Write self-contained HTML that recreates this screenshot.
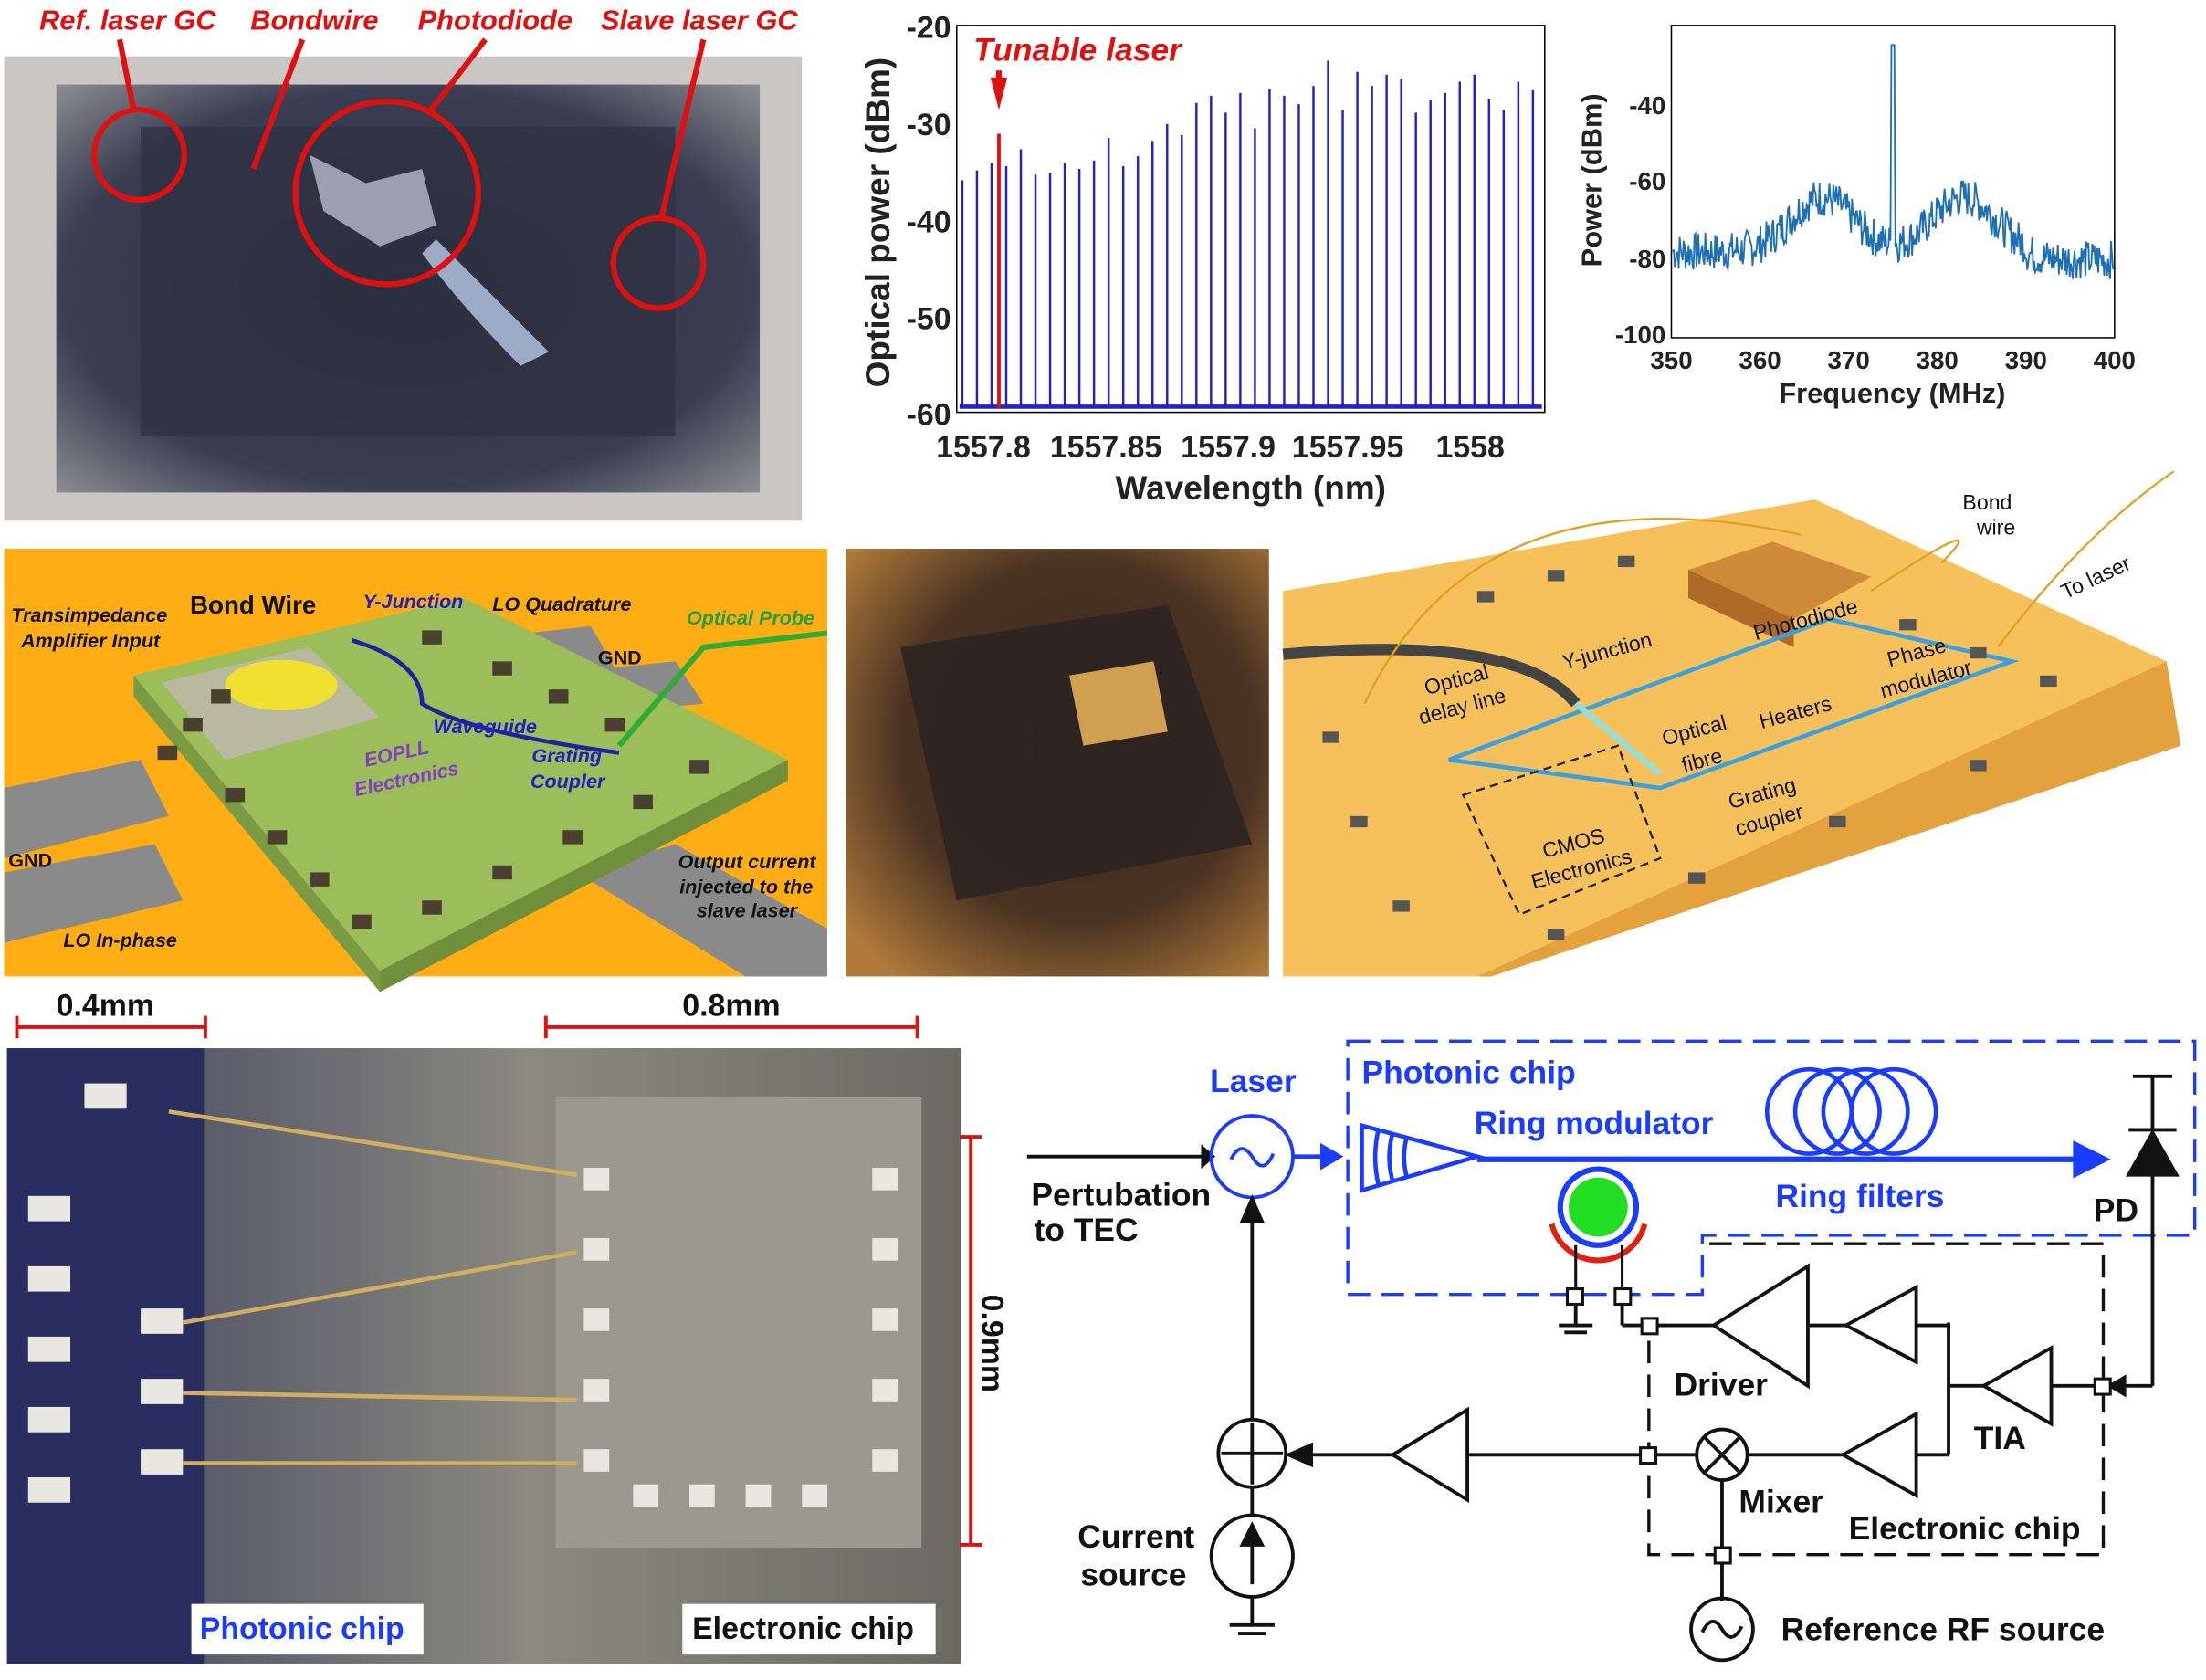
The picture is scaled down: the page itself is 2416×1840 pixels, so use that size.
<!DOCTYPE html>
<html><head><meta charset="utf-8"><style>
html,body{margin:0;padding:0;background:#fff;}
svg{display:block;font-family:"Liberation Sans",Arial,sans-serif;}
</style></head><body>
<svg id="s" width="2416" height="1840" viewBox="0 0 1568 1194" xmlns="http://www.w3.org/2000/svg">
<defs>
<radialGradient id="ph1" cx="50%" cy="50%" r="70%"><stop offset="0" stop-color="#2a2d3e"/><stop offset="0.7" stop-color="#3b3e52"/><stop offset="1" stop-color="#8a8a90"/></radialGradient>
<radialGradient id="ph2" cx="55%" cy="45%" r="70%"><stop offset="0" stop-color="#3a2a1c"/><stop offset="0.6" stop-color="#4a3322"/><stop offset="1" stop-color="#b07a3a"/></radialGradient>
<linearGradient id="ph3" x1="0" y1="0" x2="1" y2="0"><stop offset="0" stop-color="#3a3b60"/><stop offset="0.2" stop-color="#5a5a6a"/><stop offset="0.55" stop-color="#8a8a80"/><stop offset="1" stop-color="#6a6a62"/></linearGradient>
</defs>

<!-- Panel 1 photo -->
<rect x="3" y="40" width="567" height="330" fill="#c9c6c4"/>
<rect x="40" y="60" width="500" height="290" fill="url(#ph1)"/>
<rect x="100" y="90" width="380" height="220" fill="#2e3040" opacity="0.7"/>
<path d="M220 110 L260 130 L300 120 L310 160 L270 175 L230 150Z" fill="#9aa0ae"/>
<path d="M310 170 Q360 220 390 250 L370 260 Q330 220 300 180Z" fill="#cfe0ff" opacity="0.7"/>
<circle cx="99" cy="110" r="32" fill="none" stroke="#e01010" stroke-width="4"/>
<circle cx="275" cy="137" r="65" fill="none" stroke="#e01010" stroke-width="4"/>
<circle cx="468" cy="187" r="32" fill="none" stroke="#e01010" stroke-width="4"/>
<g stroke="#e01010" stroke-width="4"><line x1="85" y1="28" x2="95" y2="78"/><line x1="215" y1="28" x2="180" y2="120"/><line x1="345" y1="28" x2="305" y2="80"/><line x1="500" y1="28" x2="470" y2="155"/></g>
<g fill="#e01010" font-weight="bold" font-style="italic" font-size="20">
<text x="28" y="21">Ref. laser GC</text><text x="178" y="21">Bondwire</text><text x="297" y="21">Photodiode</text><text x="427" y="21">Slave laser GC</text></g>

<!-- Panel 6 3D chip (drawn before plot text) -->
<path d="M912 420 L1290 355 L1540 470 L1050 694 L912 694Z" fill="#f6c15a"/>
<path d="M1540 470 L1550 530 L1060 694 L1050 694Z" fill="#e4a23c"/>
<path d="M1200 405 L1260 385 L1330 410 L1275 440Z" fill="#cf8a38"/><path d="M1200 405 L1275 440 L1275 460 L1200 425Z" fill="#b06a28"/>
<path d="M1030 540 L1300 440 L1430 470 L1180 560 Z" fill="none" stroke="#3aa0e0" stroke-width="3"/>
<path d="M912 465 Q1080 450 1120 500" stroke="#444" stroke-width="8" fill="none"/>
<line x1="1120" y1="500" x2="1180" y2="550" stroke="#8ee0e0" stroke-width="4"/>
<path d="M1040 565 L1150 530 L1180 610 L1080 650Z" fill="none" stroke="#222" stroke-width="1.5" stroke-dasharray="6,4"/>
<g fill="#555"><rect x="940" y="520" width="12" height="8"/><rect x="960" y="580" width="12" height="8"/><rect x="990" y="640" width="12" height="8"/><rect x="1050" y="420" width="12" height="8"/><rect x="1100" y="405" width="12" height="8"/><rect x="1150" y="395" width="12" height="8"/><rect x="1350" y="440" width="12" height="8"/><rect x="1400" y="460" width="12" height="8"/><rect x="1450" y="480" width="12" height="8"/><rect x="1400" y="540" width="12" height="8"/><rect x="1300" y="580" width="12" height="8"/><rect x="1200" y="620" width="12" height="8"/><rect x="1100" y="660" width="12" height="8"/></g>
<path d="M970 500 Q1050 330 1280 380" stroke="#e0a020" fill="none" stroke-width="1.5"/>
<path d="M1330 420 Q1420 360 1380 400" stroke="#e0a020" fill="none" stroke-width="1.5"/>
<path d="M1420 460 Q1480 380 1545 335" stroke="#e0a020" fill="none" stroke-width="1.5"/>
<g font-size="15" fill="#111">
<text x="1395" y="362">Bond</text><text x="1405" y="380">wire</text>
<text x="1468" y="426" transform="rotate(-25 1468 426)">To laser</text>
<text x="1248" y="455" transform="rotate(-15 1248 455)">Photodiode</text>
<text x="1112" y="476" transform="rotate(-15 1112 476)">Y-junction</text>
<text x="1343" y="474" transform="rotate(-15 1343 474)">Phase</text><text x="1338" y="496" transform="rotate(-15 1338 496)">modulator</text>
<text x="1252" y="518" transform="rotate(-15 1252 518)">Heaters</text>
<text x="1014" y="494" transform="rotate(-15 1014 494)">Optical</text><text x="1010" y="515" transform="rotate(-15 1010 515)">delay line</text>
<text x="1183" y="530" transform="rotate(-15 1183 530)">Optical</text><text x="1197" y="549" transform="rotate(-15 1197 549)">fibre</text>
<text x="1230" y="575" transform="rotate(-15 1230 575)">Grating</text><text x="1235" y="594" transform="rotate(-15 1235 594)">coupler</text>
<text x="1098" y="610" transform="rotate(-15 1098 610)">CMOS</text><text x="1090" y="632" transform="rotate(-15 1090 632)">Electronics</text></g>

<!-- Panel 2 spectrum -->
<rect x="680" y="18" width="418" height="275" fill="#fff" stroke="#000" stroke-width="1"/>
<g id="spec" stroke="#2222cc" stroke-width="1.6"></g>
<line x1="710" y1="95" x2="710" y2="290" stroke="#e01010" stroke-width="2.5"/>
<path d="M704 55 L716 55 L710 78Z" fill="#e01010"/><line x1="710" y1="50" x2="710" y2="62" stroke="#e01010" stroke-width="4"/>
<text x="692" y="43" fill="#e01010" font-weight="bold" font-style="italic" font-size="23">Tunable laser</text>
<g font-size="22" font-weight="bold" fill="#222" text-anchor="end">
<text x="676" y="27">-20</text><text x="676" y="96">-30</text><text x="676" y="165">-40</text><text x="676" y="234">-50</text><text x="676" y="302">-60</text></g>
<g font-size="22" font-weight="bold" fill="#222" text-anchor="middle">
<text x="699" y="325">1557.8</text><text x="786" y="325">1557.85</text><text x="873" y="325">1557.9</text><text x="958" y="325">1557.95</text><text x="1045" y="325">1558</text>
<text x="889" y="355" font-size="24">Wavelength (nm)</text>
<text transform="translate(632,158) rotate(-90)" font-size="24">Optical power (dBm)</text></g>

<!-- Panel 3 RF -->
<rect x="1188" y="18" width="315" height="222" fill="#fff" stroke="#000" stroke-width="1"/>
<polyline id="rf" fill="none" stroke="#1f6fb5" stroke-width="1.2" points=""/>
<g font-size="18" font-weight="bold" fill="#222" text-anchor="end">
<text x="1184" y="81">-40</text><text x="1184" y="135">-60</text><text x="1184" y="190">-80</text><text x="1184" y="244">-100</text></g>
<g font-size="18" font-weight="bold" fill="#222" text-anchor="middle">
<text x="1188" y="262">350</text><text x="1251" y="262">360</text><text x="1314" y="262">370</text><text x="1377" y="262">380</text><text x="1440" y="262">390</text><text x="1503" y="262">400</text>
<text x="1345" y="286" font-size="20">Frequency (MHz)</text>
<text transform="translate(1138,128) rotate(-90)" font-size="20">Power (dBm)</text></g>

<!-- Panel 4 green chip -->
<rect x="3" y="390" width="585" height="304" fill="#ffad15"/>
<path d="M3 560 L100 540 L120 580 L3 610Z" fill="#8a8a8a"/>
<path d="M3 620 L110 600 L130 640 L3 670Z" fill="#8a8a8a"/>
<path d="M330 455 L420 445 L440 480 L350 490Z" fill="#8a8a8a"/>
<path d="M380 480 L480 470 L500 500 L400 510Z" fill="#8a8a8a"/>
<path d="M410 620 L480 600 L588 660 L588 694 L530 694Z" fill="#8a8a8a"/>
<path d="M95 480 L330 425 L560 540 L270 690Z" fill="#9bbe5a"/>
<path d="M270 690 L560 540 L560 555 L270 705Z" fill="#6f8f3a"/>
<path d="M95 480 L270 690 L270 705 L95 495Z" fill="#7a9a44"/>
<path d="M115 485 L220 460 L270 510 L160 540Z" fill="#b9b9a0"/>
<ellipse cx="200" cy="487" rx="40" ry="18" fill="#f0e030"/>
<g fill="#4a4030"><rect x="150" y="490" width="14" height="10"/><rect x="130" y="510" width="14" height="10"/><rect x="112" y="530" width="14" height="10"/><rect x="160" y="560" width="14" height="10"/><rect x="190" y="590" width="14" height="10"/><rect x="220" y="620" width="14" height="10"/><rect x="250" y="650" width="14" height="10"/><rect x="300" y="640" width="14" height="10"/><rect x="350" y="615" width="14" height="10"/><rect x="400" y="590" width="14" height="10"/><rect x="450" y="565" width="14" height="10"/><rect x="490" y="540" width="14" height="10"/><rect x="350" y="470" width="14" height="10"/><rect x="390" y="490" width="14" height="10"/><rect x="430" y="510" width="14" height="10"/><rect x="300" y="448" width="14" height="10"/></g>
<path d="M250 455 Q300 470 300 500 Q330 520 440 535" stroke="#2020a0" stroke-width="3" fill="none"/>
<path d="M440 530 L500 460 L588 450" stroke="#33aa33" stroke-width="4" fill="none"/>
<g font-weight="bold" font-style="italic" font-size="14">
<text x="8" y="442" fill="#111">Transimpedance</text><text x="15" y="460" fill="#111">Amplifier Input</text>
<text x="135" y="436" fill="#111" font-size="18" font-style="normal">Bond Wire</text>
<text x="258" y="432" fill="#2020c0">Y-Junction</text><text x="350" y="434" fill="#111">LO Quadrature</text>
<text x="488" y="444" fill="#20a040">Optical Probe</text><text x="425" y="472" fill="#111" font-style="normal">GND</text>
<text x="308" y="521" fill="#2020c0">Waveguide</text><text x="378" y="542" fill="#2020c0">Grating</text><text x="377" y="560" fill="#2020c0">Coupler</text>
<text x="260" y="545" fill="#8040c0" transform="rotate(-12 260 545)">EOPLL</text><text x="253" y="566" fill="#8040c0" transform="rotate(-12 253 566)">Electronics</text>
<text x="6" y="616" fill="#111" font-style="normal">GND</text>
<text x="482" y="617" fill="#111">Output current</text><text x="483" y="635" fill="#111">injected to the</text><text x="495" y="652" fill="#111">slave laser</text>
<text x="45" y="673" fill="#111">LO In-phase</text></g>

<!-- Panel 5 photo -->
<rect x="601" y="390" width="301" height="304" fill="url(#ph2)"/>
<path d="M640 460 L830 430 L890 600 L680 640Z" fill="#2a2220" opacity="0.8"/>
<path d="M760 480 L820 470 L830 520 L770 530Z" fill="#cfa050"/>

<!-- Panel 7 photo -->
<rect x="5" y="745" width="678" height="438" fill="url(#ph3)"/>
<rect x="5" y="745" width="140" height="438" fill="#2a2d60"/>
<rect x="395" y="780" width="260" height="320" fill="#9b9890"/>
<g fill="#e8e8e0"><rect x="415" y="830" width="18" height="16"/><rect x="415" y="880" width="18" height="16"/><rect x="415" y="930" width="18" height="16"/><rect x="415" y="980" width="18" height="16"/><rect x="415" y="1030" width="18" height="16"/><rect x="620" y="830" width="18" height="16"/><rect x="620" y="880" width="18" height="16"/><rect x="620" y="930" width="18" height="16"/><rect x="620" y="980" width="18" height="16"/><rect x="620" y="1030" width="18" height="16"/><rect x="450" y="1055" width="18" height="16"/><rect x="490" y="1055" width="18" height="16"/><rect x="530" y="1055" width="18" height="16"/><rect x="570" y="1055" width="18" height="16"/>
<rect x="20" y="850" width="30" height="18"/><rect x="20" y="900" width="30" height="18"/><rect x="20" y="950" width="30" height="18"/><rect x="20" y="1000" width="30" height="18"/><rect x="20" y="1050" width="30" height="18"/><rect x="100" y="930" width="30" height="18"/><rect x="100" y="980" width="30" height="18"/><rect x="100" y="1030" width="30" height="18"/><rect x="60" y="770" width="30" height="18"/></g>
<g stroke="#d0b060" stroke-width="3" fill="none"><path d="M120 790 L410 835"/><path d="M130 940 L410 890"/><path d="M130 990 L410 995"/><path d="M130 1040 L410 1040"/></g>
<rect x="136" y="1140" width="165" height="36" fill="#fff"/><text x="142" y="1165" font-size="22" font-weight="bold" fill="#1a3cff">Photonic chip</text>
<rect x="485" y="1140" width="180" height="36" fill="#fff"/><text x="492" y="1165" font-size="22" font-weight="bold" fill="#111">Electronic chip</text>
<g stroke="#e01010" stroke-width="2.5"><line x1="12" y1="730" x2="146" y2="730"/><line x1="12" y1="722" x2="12" y2="738"/><line x1="146" y1="722" x2="146" y2="738"/>
<line x1="388" y1="730" x2="652" y2="730"/><line x1="388" y1="722" x2="388" y2="738"/><line x1="652" y1="722" x2="652" y2="738"/>
<line x1="690" y1="808" x2="690" y2="1098"/><line x1="682" y1="808" x2="698" y2="808"/><line x1="682" y1="1098" x2="698" y2="1098"/></g>
<g font-size="22" font-weight="bold" fill="#111"><text x="40" y="722">0.4mm</text><text x="485" y="722">0.8mm</text><text transform="translate(698,920) rotate(90)">0.9mm</text></g>

<!-- Panel 8 schematic -->
<g fill="none" stroke="#1a3cff" stroke-width="2.2" stroke-dasharray="16,8">
<path d="M958 740 L1560 740 L1560 878 L1210 878 L1210 920 L958 920Z"/></g>
<g fill="none" stroke="#111" stroke-width="2.2" stroke-dasharray="16,8">
<path d="M1215 884 L1495 884 L1495 1105 L1172 1105 L1172 945"/></g>
<g font-weight="bold" font-size="23">
<text x="968" y="770" fill="#1a3cff">Photonic chip</text><text x="1048" y="806" fill="#1a3cff">Ring modulator</text><text x="1262" y="858" fill="#1a3cff">Ring filters</text>
<text x="860" y="776" fill="#1a3cff">Laser</text>
<text x="733" y="857" fill="#111">Pertubation</text><text x="735" y="882" fill="#111">to TEC</text>
<text x="1488" y="868" fill="#111">PD</text><text x="1190" y="992" fill="#111">Driver</text><text x="1403" y="1030" fill="#111">TIA</text>
<text x="1236" y="1075" fill="#111">Mixer</text><text x="1314" y="1094" fill="#111">Electronic chip</text>
<text x="766" y="1100" fill="#111">Current</text><text x="768" y="1127" fill="#111">source</text>
<text x="1266" y="1166" fill="#111">Reference RF source</text></g>
<g stroke="#111" stroke-width="2.5" fill="none">
<line x1="730" y1="822" x2="855" y2="822"/><path d="M855 816 L862 822 L855 828Z" fill="#111"/>
<circle cx="890" cy="822" r="29" stroke="#1a3cff"/>
<path d="M875 824 Q882 810 890 822 Q898 836 905 820" stroke="#1a3cff"/>
<line x1="890" y1="1008" x2="890" y2="860"/><path d="M883 868 L890 852 L897 868Z" fill="#111"/>
<circle cx="890" cy="1033" r="24"/><line x1="868" y1="1033" x2="912" y2="1033"/><line x1="890" y1="1011" x2="890" y2="1055"/>
<circle cx="890" cy="1106" r="29"/><line x1="890" y1="1126" x2="890" y2="1090"/><path d="M883 1098 L890 1084 L897 1098Z" fill="#111"/>
<line x1="890" y1="1057" x2="890" y2="1077"/><line x1="890" y1="1135" x2="890" y2="1155"/><line x1="874" y1="1155" x2="906" y2="1155"/><line x1="880" y1="1161" x2="900" y2="1161"/>
<path d="M1043 1002 L1043 1066 L990 1034Z"/><line x1="925" y1="1034" x2="990" y2="1034"/><path d="M932 1027 L916 1034 L932 1041Z" fill="#111"/>
<line x1="1043" y1="1034" x2="1206" y2="1034"/>
<circle cx="1224" cy="1034" r="18"/><line x1="1211" y1="1021" x2="1237" y2="1047"/><line x1="1237" y1="1021" x2="1211" y2="1047"/>
<line x1="1242" y1="1034" x2="1310" y2="1034"/><path d="M1362 1005 L1362 1063 L1310 1034Z"/>
<line x1="1362" y1="1034" x2="1385" y2="1034"/><line x1="1385" y1="940" x2="1385" y2="1034"/><line x1="1385" y1="985" x2="1410" y2="985"/>
<path d="M1458 958 L1458 1012 L1410 985Z"/><line x1="1458" y1="985" x2="1530" y2="985"/>
<path d="M1510 979 L1500 985 L1510 991Z" fill="#111"/>
<line x1="1224" y1="1052" x2="1224" y2="1138"/><circle cx="1224" cy="1158" r="22"/><path d="M1210 1160 Q1217 1146 1224 1158 Q1231 1170 1238 1156"/>
<path d="M1362 915 L1362 968 L1312 942Z"/><line x1="1362" y1="942" x2="1385" y2="942"/>
<line x1="1285" y1="942" x2="1312" y2="942"/><path d="M1285 900 L1285 985 L1218 942Z"/>
<line x1="1172" y1="942" x2="1218" y2="942"/>
<line x1="1172" y1="942" x2="1153" y2="942"/><line x1="1153" y1="942" x2="1153" y2="922"/>
<line x1="1120" y1="922" x2="1120" y2="942"/><line x1="1108" y1="942" x2="1132" y2="942"/><line x1="1112" y1="947" x2="1128" y2="947"/>
<line x1="1530" y1="985" x2="1530" y2="835"/><path d="M1513 835 L1547 835 L1530 805Z" fill="#111"/><line x1="1513" y1="803" x2="1547" y2="803"/><line x1="1530" y1="803" x2="1530" y2="765"/><line x1="1516" y1="765" x2="1544" y2="765"/>
</g>
<g fill="#fff" stroke="#111" stroke-width="2"><rect x="1114" y="916" width="11" height="11"/><rect x="1148" y="916" width="11" height="11"/><rect x="1167" y="937" width="11" height="11"/><rect x="1166" y="1029" width="11" height="11"/><rect x="1489" y="980" width="11" height="11"/><rect x="1219" y="1100" width="11" height="11"/></g>
<g stroke="#1a3cff" stroke-width="3" fill="none">
<line x1="920" y1="822" x2="945" y2="822"/><path d="M940 815 L952 822 L940 829Z" fill="#1a3cff"/>
<path d="M968 800 L1050 822 L968 846Z"/><path d="M980 802 Q975 822 980 843 M990 805 Q985 822 990 840 M1000 808 Q996 822 1000 837"/>
<line x1="1050" y1="824" x2="1478" y2="824" stroke-width="4"/><path d="M1475 813 L1497 824 L1475 835Z" fill="#1a3cff"/>
<circle cx="1286" cy="790" r="30"/><circle cx="1306" cy="790" r="30"/><circle cx="1326" cy="790" r="30"/><circle cx="1346" cy="790" r="30"/>
<circle cx="1136" cy="858" r="27" stroke-width="4"/>
</g>
<circle cx="1136" cy="858" r="21" fill="#22dd22"/>
<path d="M1103 870 A34 34 0 0 0 1169 870" stroke="#e02010" stroke-width="4" fill="none"/>
<g stroke="#111" stroke-width="2" fill="none"><line x1="1120" y1="885" x2="1120" y2="916"/><line x1="1153" y1="885" x2="1153" y2="916"/></g>
</svg>
<script>
(function(){
var NS="http://www.w3.org/2000/svg";
var g=document.getElementById("spec");
var hs=[110,103,98,100,88,106,105,98,102,96,80,100,93,82,70,78,55,50,62,48,73,45,50,56,43,25,60,33,43,35,38,62,53,48,40,35,52,60,40,46];
var y0=290, yt=18;
for(var i=0;i<40;i++){
 var x=684+i*10.4; if(Math.abs(x-710)<3) continue;
 var y=yt+hs[i];
 var l=document.createElementNS(NS,"line");
 l.setAttribute("x1",x);l.setAttribute("x2",x);l.setAttribute("y1",y0);l.setAttribute("y2",y);g.appendChild(l);
}
var n=document.createElementNS(NS,"line");n.setAttribute("x1",682);n.setAttribute("x2",1096);n.setAttribute("y1",289);n.setAttribute("y2",289);n.setAttribute("stroke-width","3");g.appendChild(n);
var pts=[];var seed=7;function r(){seed=(seed*9301+49297)%233280;return seed/233280;}
for(var x=1189;x<=1502;x+=0.7){
 var f=350+(x-1188)/315*50;
 var db=-78+14*Math.exp(-Math.pow((f-367)/5,2))+14*Math.exp(-Math.pow((f-383)/5,2))-(f>390?2:0);
 db+= (r()-0.5)*10;
 if(Math.abs(f-375)<0.25) db=-25;
 var y=18+(db+20)/(-80)*222;
 pts.push(x.toFixed(1)+","+y.toFixed(1));
}
document.getElementById("rf").setAttribute("points",pts.join(" "));
})();
</script>
</body></html>
